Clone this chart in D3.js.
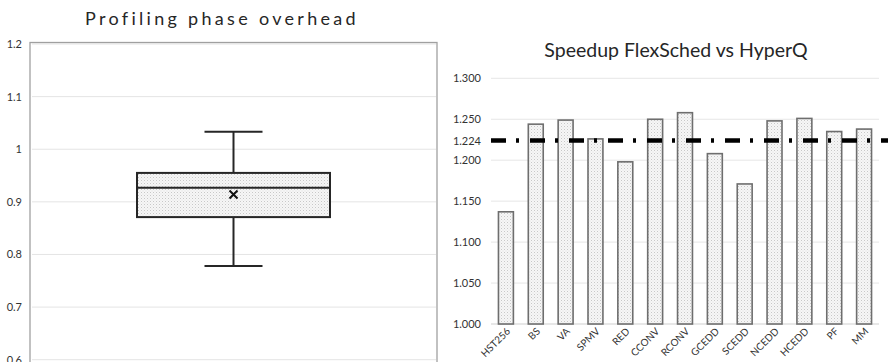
<!DOCTYPE html>
<html>
<head>
<meta charset="utf-8">
<script src="https://cdn.jsdelivr.net/npm/d3@7"></script>
<style>
  body { margin: 0; background: #fff; }
  svg { display: block; font-family: Lato, "Open Sans", sans-serif; }
</style>
</head>
<body>
<svg id="chart" width="888" height="362"></svg>
<script>
// left: box plot summary
const boxStats = { min: 0.778, q1: 0.871, median: 0.927, q3: 0.955, max: 1.033, mean: 0.914 };
const boxTicks = [0.6, 0.7, 0.8, 0.9, 1.0, 1.1, 1.2];

// right: speedup per benchmark
const benchmarks = ["HST256", "BS", "VA", "SPMV", "RED", "CCONV", "RCONV", "GCEDD", "SCEDD", "NCEDD", "HCEDD", "PF", "MM"];
const speedups = [1.137, 1.244, 1.249, 1.226, 1.198, 1.250, 1.258, 1.208, 1.171, 1.248, 1.251, 1.235, 1.238];
const speedTicks = [1.000, 1.050, 1.100, 1.150, 1.200, 1.250, 1.300];
const avgSpeedup = 1.224;

const svg = d3.select("#chart");

const defs = svg.append("defs");
const pat = defs.append("pattern")
    .attr("id", "dots")
    .attr("width", 3)
    .attr("height", 3)
    .attr("patternUnits", "userSpaceOnUse");
pat.append("rect").attr("width", 3).attr("height", 3).attr("fill", "#f6f6f6");
pat.append("rect").attr("x", 0).attr("y", 0).attr("width", 1).attr("height", 1).attr("fill", "#c8c8c8");
pat.append("rect").attr("x", 1.5).attr("y", 1.5).attr("width", 1).attr("height", 1).attr("fill", "#dedede");

// ---------- left chart ----------
const y1 = d3.scaleLinear().domain([0.6, 1.2]).range([359.7, 44]);
const boxLeft = 30, boxRight = 437;

svg.append("text")
    .attr("x", 222)
    .attr("y", 25)
    .attr("text-anchor", "middle")
    .attr("font-size", "18px")
    .attr("letter-spacing", "3.3px")
    .attr("fill", "#262626")
    .text("Profiling phase overhead");

svg.append("g").selectAll("line")
    .data(boxTicks)
    .enter()
    .append("line")
    .attr("x1", boxLeft + 2)
    .attr("x2", boxRight - 1)
    .attr("y1", d => y1(d))
    .attr("y2", d => y1(d))
    .attr("stroke", "#e4e4e4")
    .attr("stroke-width", 1);

svg.append("rect")
    .attr("x", boxLeft)
    .attr("y", 42.5)
    .attr("width", boxRight - boxLeft)
    .attr("height", 340)
    .attr("fill", "none")
    .attr("stroke", "#a0a0a0")
    .attr("stroke-width", 1.3);

svg.append("g").selectAll("text")
    .data(boxTicks)
    .enter()
    .append("text")
    .attr("x", 22)
    .attr("y", d => y1(d) + 4)
    .attr("text-anchor", "end")
    .attr("font-size", "11px")
    .attr("fill", "#333")
    .text(d => d === 1 ? "1" : d3.format(".1f")(d));

const cx = 233.5, boxW = 193, capW = 58;
const bp = svg.append("g").attr("stroke", "#262626").attr("stroke-width", 2);
bp.append("line").attr("x1", cx).attr("x2", cx).attr("y1", y1(boxStats.max)).attr("y2", y1(boxStats.q3));
bp.append("line").attr("x1", cx).attr("x2", cx).attr("y1", y1(boxStats.q1)).attr("y2", y1(boxStats.min));
bp.append("line").attr("x1", cx - capW / 2).attr("x2", cx + capW / 2).attr("y1", y1(boxStats.max)).attr("y2", y1(boxStats.max));
bp.append("line").attr("x1", cx - capW / 2).attr("x2", cx + capW / 2).attr("y1", y1(boxStats.min)).attr("y2", y1(boxStats.min));
bp.append("rect")
    .attr("x", cx - boxW / 2)
    .attr("y", y1(boxStats.q3))
    .attr("width", boxW)
    .attr("height", y1(boxStats.q1) - y1(boxStats.q3))
    .attr("fill", "url(#dots)");
bp.append("line").attr("x1", cx - boxW / 2).attr("x2", cx + boxW / 2).attr("y1", y1(boxStats.median)).attr("y2", y1(boxStats.median));
const my = y1(boxStats.mean), ms = 4;
bp.append("path")
    .attr("d", `M${cx - ms},${my - ms}L${cx + ms},${my + ms}M${cx - ms},${my + ms}L${cx + ms},${my - ms}`)
    .attr("stroke", "#111")
    .attr("stroke-width", 2);

// ---------- right chart ----------
const x2 = d3.scaleBand().domain(benchmarks).range([491, 879]).paddingInner(0.5).paddingOuter(0.25);
const y2 = d3.scaleLinear().domain([1.0, 1.3]).range([324, 78.3]);

svg.append("text")
    .attr("x", 676)
    .attr("y", 57)
    .attr("text-anchor", "middle")
    .attr("font-size", "19.5px")
    .attr("fill", "#262626")
    .text("Speedup FlexSched vs HyperQ");

svg.append("g").selectAll("line")
    .data(speedTicks)
    .enter()
    .append("line")
    .attr("x1", 491)
    .attr("x2", 879)
    .attr("y1", d => y2(d))
    .attr("y2", d => y2(d))
    .attr("stroke", d => d === 1 ? "#cfcfcf" : "#e6e6e6")
    .attr("stroke-width", 1);

svg.append("g").selectAll("text")
    .data(speedTicks.concat([avgSpeedup]))
    .enter()
    .append("text")
    .attr("x", 481)
    .attr("y", d => y2(d) + 4)
    .attr("text-anchor", "end")
    .attr("font-size", "11px")
    .attr("fill", "#333")
    .text(d => d3.format(".3f")(d));

svg.append("g").selectAll("rect")
    .data(speedups)
    .enter()
    .append("rect")
    .attr("x", (d, i) => x2(benchmarks[i]))
    .attr("y", d => y2(d))
    .attr("width", x2.bandwidth())
    .attr("height", d => y2(1.0) - y2(d))
    .attr("fill", "url(#dots)")
    .attr("stroke", "#6e6e6e")
    .attr("stroke-width", 1.6);

svg.append("line")
    .attr("x1", 491)
    .attr("x2", 888)
    .attr("y1", y2(avgSpeedup))
    .attr("y2", y2(avgSpeedup))
    .attr("stroke", "#000")
    .attr("stroke-width", 4.5)
    .attr("stroke-dasharray", "15,10,3,11");

svg.append("g").selectAll("text")
    .data(benchmarks)
    .enter()
    .append("text")
    .attr("transform", d => `translate(${x2(d) + x2.bandwidth() / 2 + 5},${332}) rotate(-45)`)
    .attr("text-anchor", "end")
    .attr("font-size", "10px")
    .attr("fill", "#333")
    .text(d => d);
</script>
</body>
</html>
